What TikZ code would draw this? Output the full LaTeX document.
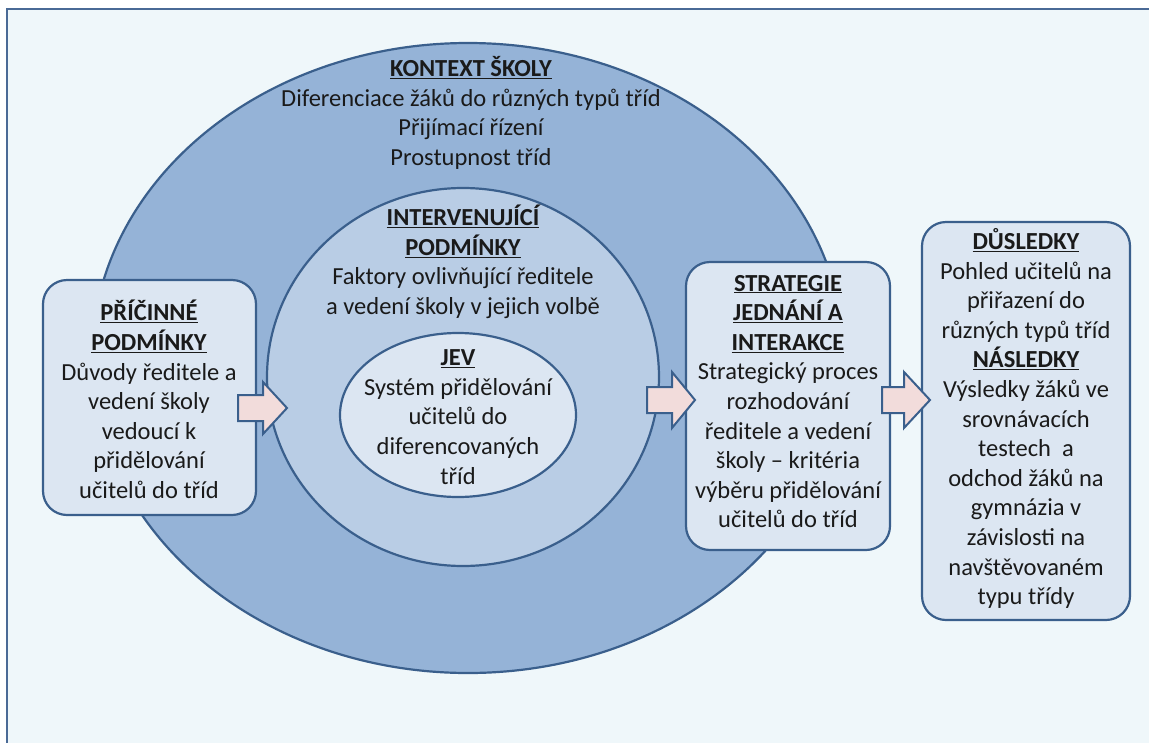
\documentclass[tikz,border=0pt]{standalone}
\usepackage{fontspec}
\setmainfont{Carlito}
\usetikzlibrary{shapes.geometric}
\definecolor{bgc}{HTML}{EFF7FA}
\definecolor{framec}{HTML}{4A6A96}
\definecolor{outerc}{HTML}{95B3D7}
\definecolor{midc}{HTML}{B9CDE5}
\definecolor{innerc}{HTML}{DCE6F2}
\definecolor{edgec}{HTML}{3A5F8C}
\definecolor{arrowc}{HTML}{F2DCDB}
\definecolor{txt}{HTML}{1A1A1A}
\newcommand\hd[1]{\textbf{\underline{#1}}}
\begin{document}
\begin{tikzpicture}[x=1pt,y=-1pt,
  shapeline/.style={draw=edgec, line width=2.2pt},
  oval/.style={shapeline, ellipse, inner sep=0pt},
  roundbox/.style={shapeline, rounded corners=24pt, fill=innerc, inner sep=0pt},
  lbl/.style={align=center, text=txt, font=\fontsize{24.5}{29.6}\selectfont, inner sep=0pt},
  blockarrow/.style={draw=edgec, line width=2pt, fill=arrowc, line join=miter}]
\useasboundingbox (0,0) rectangle (1149,742);
\fill[white] (0,0) rectangle (1149,742);
\path[fill=bgc, draw=framec, line width=2pt] (7,9) rectangle (1170,770);

% shapes
\node[oval, fill=outerc, minimum width=752pt, minimum height=630pt] (context) at (468,358) {};
\node[oval, fill=midc, minimum width=392pt, minimum height=378pt] (interv) at (463,377) {};
\node[oval, fill=innerc, minimum width=236pt, minimum height=164pt] (jev) at (458,415) {};
\node[roundbox, minimum width=213pt, minimum height=235pt] (cause) at (149.5,397.5) {};
\node[roundbox, minimum width=204pt, minimum height=288pt] (strat) at (788,406) {};
\node[roundbox, minimum width=208pt, minimum height=398pt] (cons) at (1026,421) {};

% texts
\node[lbl] (contextT) at (471,112.75) {\hd{KONTEXT ŠKOLY}\\Diferenciace žáků do různých typů tříd\\Přijímací řízení\\Prostupnost tříd};
\node[lbl] (intervT) at (463,261.75) {\hd{INTERVENUJÍCÍ}\\\hd{PODMÍNKY}\\Faktory ovlivňující ředitele\\a vedení školy v jejich volbě};
\node[lbl] (jevT) at (458,417) {\hd{JEV}\\Systém přidělování\\učitelů do\\diferencovaných\\tříd};
\node[lbl] (causeT) at (149,399.5) {\hd{PŘÍČINNÉ}\\\hd{PODMÍNKY}\\Důvody ředitele a\\vedení školy\\vedoucí k\\přidělování\\učitelů do tříd};
\node[lbl] (stratT) at (788,401.5) {\hd{STRATEGIE}\\\hd{JEDNÁNÍ A}\\\hd{INTERAKCE}\\Strategický proces\\rozhodování\\ředitele a vedení\\školy – kritéria\\výběru přidělování\\učitelů do tříd};
\node[lbl] (consT) at (1026,418.5) {\hd{DŮSLEDKY}\\Pohled učitelů na\\přiřazení do\\různých typů tříd\\\hd{NÁSLEDKY}\\Výsledky žáků ve\\srovnávacích\\testech\ \ a\\odchod žáků na\\gymnázia v\\závislosti na\\navštěvovaném\\typu třídy};

% block arrows
\draw[blockarrow] (238,395) -- (263,395) -- (263,382) -- (287,408) -- (263,434) -- (263,421) -- (238,421) -- cycle;
\draw[blockarrow] (647,387) -- (672,387) -- (672,372) -- (695,400) -- (672,428) -- (672,413) -- (647,413) -- cycle;
\draw[blockarrow] (882,387) -- (904,387) -- (904,372) -- (930,400) -- (904,428) -- (904,413) -- (882,413) -- cycle;
\end{tikzpicture}
\end{document}
